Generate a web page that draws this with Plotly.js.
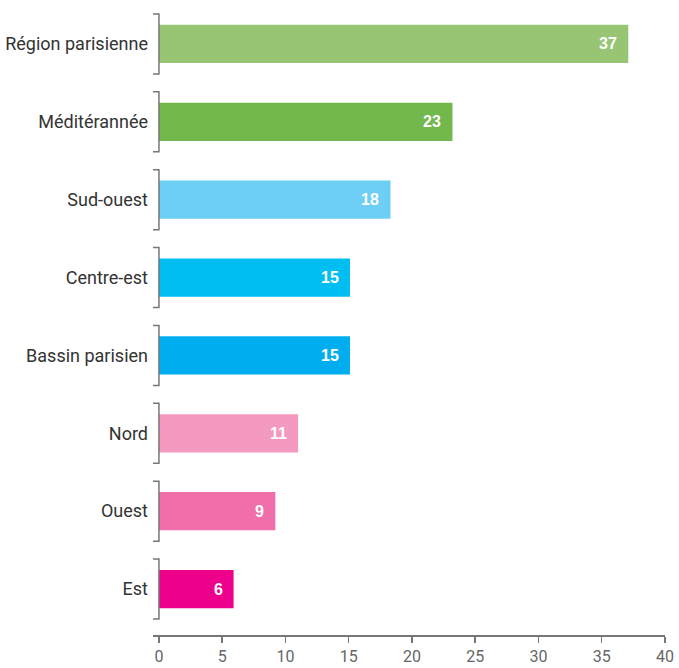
<!DOCTYPE html>
<html><head><meta charset="utf-8">
<script src="https://cdn.plot.ly/plotly-3.0.1.min.js"></script>
<style>html,body{margin:0;padding:0;background:#fff;}#chart{width:679px;height:668px;}</style>
</head><body><div id="chart"></div>
<script>
const categories = ["Région parisienne","Méditérannée","Sud-ouest","Centre-est","Bassin parisien","Nord","Ouest","Est"];
const values = [37.1, 23.2, 18.3, 15.1, 15.1, 11.0, 9.2, 5.9];
const labels = ["37","23","18","15","15","11","9","6"];
const colors = ["#97c574","#72b84c","#6dcff6","#00bdf2","#00aeef","#f49ac1","#f06eaa","#ec008c"];
const xTicks = [0,5,10,15,20,25,30,35,40];

const FONT = "Roboto, 'Liberation Sans', Arial, sans-serif";
const gray = "#777";

const shapes = [];
categories.forEach((c,i)=>{
  const y0 = i-0.385, y1 = i+0.385;
  shapes.push({type:'path', xref:'x', yref:'y',
    path:`M -0.47 ${y0} L 0 ${y0} L 0 ${y1} L -0.47 ${y1}`,
    line:{color:gray,width:1.5}});
});

const annotations = categories.map((c,i)=>({
  x: values[i], y: i, xref:'x', yref:'y', text: labels[i],
  showarrow:false, xanchor:'right', xshift:-9,
  font:{family:"'Liberation Sans', Arial, sans-serif", size:16, color:'#fff', weight:'bold'}
}));

const trace = {
  type:'bar', orientation:'h', x: values, y: categories.map((c,i)=>i),
  marker:{color:colors}, width:0.49, hoverinfo:'none'
};

const layout = {
  width:679, height:668,
  margin:{l:153, r:14, t:5, b:33},
  paper_bgcolor:'#fff', plot_bgcolor:'#fff',
  showlegend:false,
  xaxis:{range:[-0.47,40], tickvals:xTicks, ticktext:xTicks.map(String),
    showgrid:false, zeroline:false, showline:true, linecolor:gray, linewidth:1.5,
    ticks:'outside', ticklen:6, tickcolor:gray, tickwidth:1.5, ticklabelstandoff:0,
    tickfont:{family:FONT, size:16, color:'#666'}},
  yaxis:{range:[7.59,-0.5], tickvals:categories.map((c,i)=>i), ticktext:categories,
    showgrid:false, zeroline:false, showline:false, ticks:'', ticklabelstandoff:4,
    tickfont:{family:FONT, size:18, color:'#333'}},
  shapes: shapes,
  annotations: annotations
};
Plotly.newPlot('chart',[trace],layout,{displayModeBar:false, staticPlot:true});
</script></body></html>
